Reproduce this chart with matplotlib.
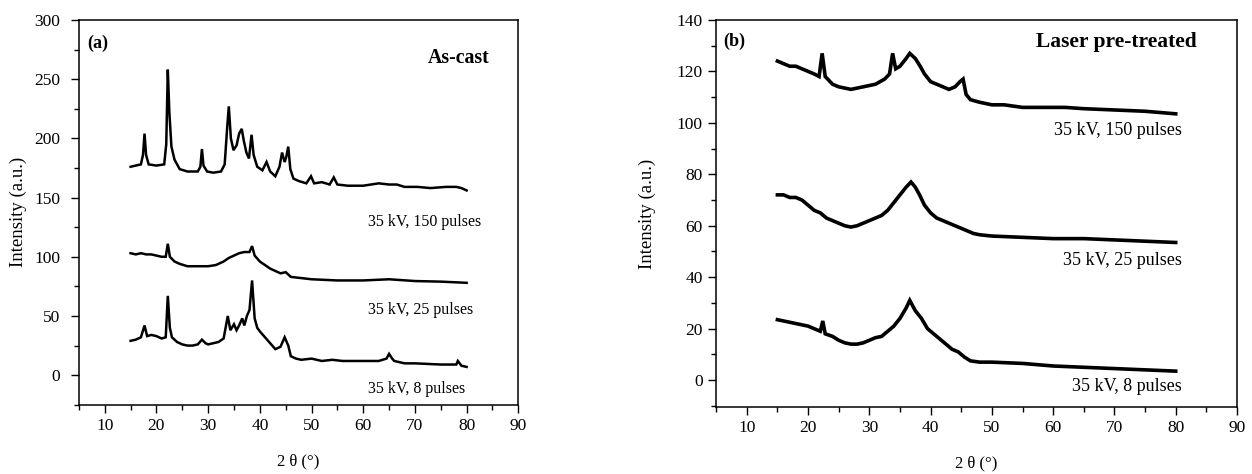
import numpy as np
import matplotlib
matplotlib.use("Agg")
import matplotlib.pyplot as plt
from matplotlib.ticker import MultipleLocator

plt.rcParams["font.family"] = ["Liberation Serif", "DejaVu Serif"]

# (2theta, intensity)
# panel (a) As-cast
a_150 = np.array([
    (15, 176), (16, 177), (17, 178), (17.4, 186), (17.7, 204), (18.0, 186), (18.5, 178),
    (20, 177), (21.5, 178), (21.9, 195), (22.2, 258), (22.5, 222), (22.9, 193), (23.5, 182),
    (24.5, 174), (26, 172), (28, 172), (28.5, 176), (28.8, 191), (29.1, 177), (29.8, 172),
    (31, 171), (32.5, 172), (33.2, 178), (33.7, 210), (34.0, 227), (34.4, 200), (34.9, 190),
    (35.5, 194), (36.0, 204), (36.5, 208), (36.9, 198), (37.4, 188), (37.9, 183), (38.4, 203),
    (38.8, 186), (39.5, 176), (40.5, 173), (41.3, 180), (42, 172), (43, 168), (43.8, 176),
    (44.3, 188), (44.8, 180), (45.1, 184), (45.5, 193), (45.9, 174), (46.5, 166), (47.5, 164),
    (49, 162), (49.9, 168), (50.5, 162), (52, 163), (53.5, 161), (54.3, 167), (55, 161),
    (57, 160), (60, 160), (63, 162), (65, 161), (66.5, 161), (68, 159), (70.5, 159),
    (73, 158), (76, 159), (78, 159), (79, 158), (80, 156),
])
a_25 = np.array([
    (15, 103), (16, 102), (17, 103), (18, 102), (19, 102), (20, 101), (21, 100), (21.8, 100),
    (22.2, 111), (22.6, 100), (23.5, 96), (24.5, 94), (26, 92), (28, 92), (30, 92),
    (31.5, 93), (33, 96), (34, 99), (35, 101), (36, 103), (37, 104), (38, 104), (38.5, 109),
    (39, 101), (40, 96), (41, 93), (42, 90), (43, 88), (44, 86), (45, 87), (46, 83),
    (48, 82), (50, 81), (55, 80), (60, 80), (65, 81), (70, 79.5), (75, 79), (80, 78),
])
a_8 = np.array([
    (15, 29), (16, 30), (17, 32), (17.7, 42), (18.2, 33), (19, 34), (20, 33), (21, 31),
    (21.8, 32), (22.2, 67), (22.6, 40), (23, 32), (24, 28), (25, 26), (26, 25), (27, 25),
    (28, 26), (28.8, 30), (29.5, 27), (30, 26), (31, 27), (32, 28), (33, 31), (33.8, 50),
    (34.3, 38), (35, 43), (35.5, 38), (36, 42), (36.6, 48), (37, 42), (37.5, 50), (38, 55),
    (38.5, 80), (39, 48), (39.5, 40), (40, 37), (41, 32), (42, 27), (43, 22), (44, 24),
    (44.8, 32), (45.5, 25), (46, 16), (47, 14), (48, 13), (50, 14), (52, 12), (54, 13),
    (56, 12), (60, 12), (63, 12), (64.5, 14), (65, 18), (65.6, 14), (66, 12), (68, 10),
    (70, 10), (75, 9), (78, 9), (78.3, 12), (79, 8), (80, 7),
])

# panel (b) Laser pre-treated
b_150 = np.array([
    (15, 124), (16, 123), (17, 122), (18, 122), (19, 121), (20, 120), (21, 119), (21.8, 118),
    (22.3, 127), (22.8, 118), (24, 115), (25, 114), (27, 113), (29, 114), (31, 115),
    (32.5, 117), (33.3, 119), (33.8, 127), (34.3, 121), (35, 122), (36, 125), (36.6, 127),
    (37.5, 125), (38.3, 122), (39, 119), (40, 116), (41, 115), (42, 114), (43, 113),
    (44, 114), (44.8, 116), (45.3, 117), (45.8, 111), (46.5, 109), (48, 108), (50, 107),
    (52, 107), (55, 106), (58, 106), (62, 106), (65, 105.5), (70, 105), (75, 104.5), (80, 103.5),
])
b_25 = np.array([
    (15, 72), (16, 72), (17, 71), (18, 71), (19, 70), (20, 68), (21, 66), (22, 65), (23, 63),
    (24, 62), (25, 61), (26, 60), (27, 59.5), (28, 60), (29, 61), (30, 62), (31, 63), (32, 64),
    (33, 66), (34, 69), (35, 72), (36, 75), (36.8, 77), (37.5, 75), (38.2, 72), (39, 68),
    (40, 65), (41, 63), (42, 62), (43, 61), (44, 60), (45, 59), (46, 58), (47, 57),
    (48, 56.5), (50, 56), (55, 55.5), (60, 55), (65, 55), (70, 54.5), (75, 54), (80, 53.5),
])
b_8 = np.array([
    (15, 23.5), (16, 23), (17, 22.5), (18, 22), (19, 21.5), (20, 21), (21, 20), (22, 19),
    (22.4, 23), (22.8, 18), (24, 17), (25, 15.5), (26, 14.5), (27, 14), (28, 14), (29, 14.5),
    (30, 15.5), (31, 16.5), (32, 17), (33, 19), (34, 21), (35, 24), (36, 28), (36.6, 31),
    (37.5, 27), (38.5, 24), (39.5, 20), (40.5, 18), (41.5, 16), (42.5, 14), (43.5, 12),
    (44.5, 11), (45.5, 9), (46.5, 7.5), (48, 7), (50, 7), (55, 6.5), (60, 5.5), (65, 5),
    (70, 4.5), (75, 4), (80, 3.5),
])

labels = ["35 kV, 150 pulses", "35 kV, 25 pulses", "35 kV, 8 pulses"]
label_y_a = [129, 55, -12]
label_y_b = [97, 46.5, -2.5]


def style_axes(ax, ylim, ymajor, yminor, ypad, ylabelpad):
    ax.set_xlim(5, 90)
    ax.set_ylim(*ylim)
    ax.xaxis.set_major_locator(MultipleLocator(10))
    ax.xaxis.set_minor_locator(MultipleLocator(5))
    ax.yaxis.set_major_locator(MultipleLocator(ymajor))
    ax.yaxis.set_minor_locator(MultipleLocator(yminor))
    ax.tick_params(which="both", direction="out", top=False, right=False,
                   labelsize=12.5, width=1.0)
    ax.tick_params(which="major", length=6)
    ax.tick_params(which="minor", length=3.5)
    ax.tick_params(axis="y", which="major", pad=ypad)
    for s in ax.spines.values():
        s.set_linewidth(1.1)
    ax.set_xticks([10, 20, 30, 40, 50, 60, 70, 80, 90])
    ax.set_xlabel("2 θ (°)", fontsize=12, labelpad=14)
    ax.set_ylabel("Intensity (a.u.)", fontsize=13.5, labelpad=ylabelpad)


fig = plt.figure(figsize=(12.52, 4.74), dpi=100)

ax1 = fig.add_axes([0.063, 0.146, 0.351, 0.812])
for d in (a_150, a_25, a_8):
    ax1.plot(d[:, 0], d[:, 1], color="black", linewidth=1.8, solid_joinstyle="miter")
style_axes(ax1, (-25, 300), 50, 25, ypad=7.5, ylabelpad=5)
for txt, yy in zip(labels, label_y_a):
    ax1.text(61, yy, txt, fontsize=11.5, ha="left", va="center")
ax1.text(6.7, 280, "(a)", fontsize=13, fontweight="bold", ha="left", va="center")
ax1.text(84.4, 268, "As-cast", fontsize=14.3, fontweight="bold", ha="right", va="center")

ax2 = fig.add_axes([0.572, 0.141, 0.416, 0.817])
for d in (b_150, b_25, b_8):
    ax2.plot(d[:, 0], d[:, 1], color="black", linewidth=2.6, solid_joinstyle="miter")
style_axes(ax2, (-10.5, 140), 20, 10, ypad=3.5, ylabelpad=15)
for txt, yy in zip(labels, label_y_b):
    ax2.text(81, yy, txt, fontsize=13, ha="right", va="center")
ax2.text(6.1, 131.5, "(b)", fontsize=13, fontweight="bold", ha="left", va="center")
ax2.text(83.5, 131.5, "Laser pre-treated", fontsize=15.5, fontweight="bold",
         ha="right", va="center")

fig.savefig("out.png", dpi=100)
